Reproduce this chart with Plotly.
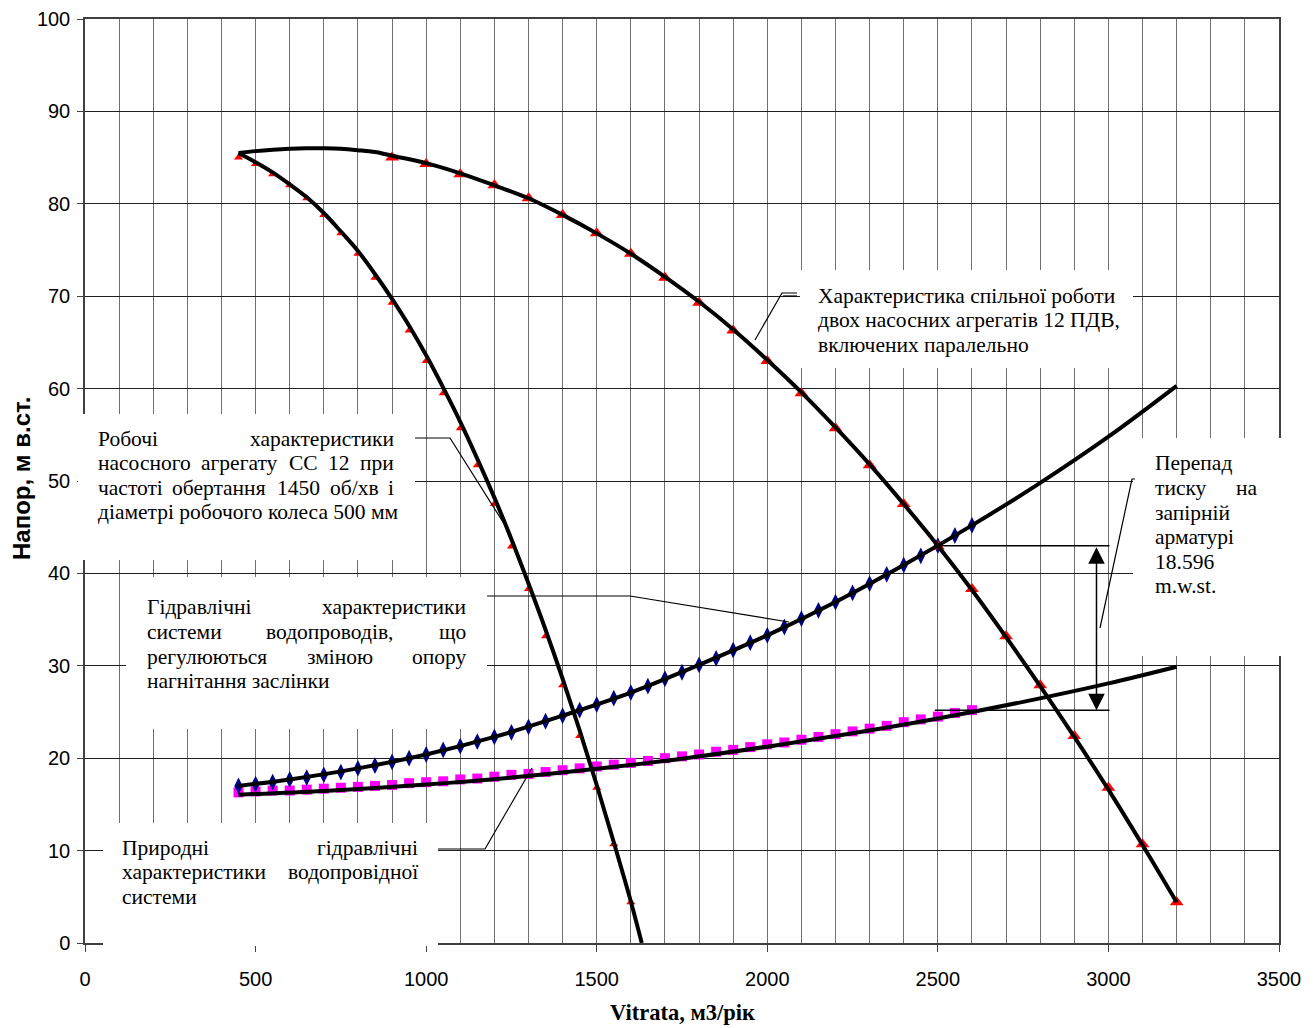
import plotly.graph_objects as go

# ---------------- data ----------------
single_x = [450, 500, 550, 600, 650, 700, 750, 800, 850, 900, 950, 1000, 1050, 1100,
            1150, 1200, 1250, 1300, 1350, 1400, 1450, 1500, 1550, 1600]
single_y = [85.0, 84.3, 83.2, 82.0, 80.6, 78.8, 76.8, 74.6, 72.0, 69.3, 66.3, 63.0, 59.5, 55.7,
            51.7, 47.5, 42.9, 38.3, 33.2, 27.9, 22.4, 16.8, 10.7, 4.4]

single_line_x = [450, 500, 550, 600, 650, 700, 750, 800, 850, 900, 950, 1000, 1050, 1100,
                 1150, 1200, 1250, 1300, 1350, 1400, 1450, 1500, 1550, 1600, 1632]
single_line_y = [85.5, 84.5, 83.4, 82.1, 80.7, 79.0, 77.0, 74.9, 72.4, 69.7, 66.8, 63.6, 60.1, 56.4,
                 52.4, 48.2, 43.7, 38.9, 33.9, 28.6, 23.0, 17.1, 10.9, 4.5, 0.0]

parallel_x = [900, 1000, 1100, 1200, 1300, 1400, 1500, 1600, 1700, 1800, 1900, 2000,
              2100, 2200, 2300, 2400, 2500, 2600, 2700, 2800, 2900, 3000, 3100, 3200]
parallel_y = [85.0, 84.3, 83.2, 82.0, 80.6, 78.8, 76.8, 74.6, 72.0, 69.3, 66.3, 63.0,
              59.5, 55.7, 51.7, 47.5, 42.9, 38.3, 33.2, 27.9, 22.4, 16.8, 10.7, 4.4]

parallel_line_x = [450, 500, 550, 600, 650, 700, 750, 800, 850, 900, 1000, 1100, 1200, 1300,
                   1400, 1500, 1600, 1700, 1800, 1900, 2000, 2100, 2200, 2300, 2400, 2500,
                   2600, 2700, 2800, 2900, 3000, 3100, 3200]
parallel_line_y = [85.5, 85.7, 85.85, 85.95, 86.0, 86.0, 85.95, 85.8, 85.6, 85.2, 84.4, 83.3, 82.0, 80.6,
                   78.8, 76.8, 74.6, 72.1, 69.4, 66.4, 63.1, 59.6, 55.8, 51.8, 47.5, 43.0,
                   38.2, 33.1, 27.8, 22.3, 16.6, 10.6, 4.4]

sys_x = [450, 500, 550, 600, 650, 700, 750, 800, 850, 900, 950, 1000, 1050, 1100, 1150,
         1200, 1250, 1300, 1350, 1400, 1450, 1500, 1550, 1600, 1650, 1700, 1750, 1800,
         1850, 1900, 1950, 2000, 2050, 2100, 2150, 2200, 2250, 2300, 2350, 2400, 2450,
         2500, 2550, 2600]
regulated_y = [17.0, 17.2, 17.4, 17.7, 17.9, 18.2, 18.5, 18.9, 19.2, 19.6, 20.0, 20.4, 20.9, 21.3, 21.8,
               22.3, 22.8, 23.4, 24.0, 24.6, 25.2, 25.8, 26.5, 27.1, 27.8, 28.6, 29.3, 30.1,
               30.8, 31.7, 32.5, 33.3, 34.2, 35.1, 36.0, 36.9, 37.9, 38.9, 39.9, 40.9, 41.9,
               43.0, 44.1, 45.2]
natural_y = [16.3, 16.4, 16.5, 16.5, 16.6, 16.7, 16.8, 16.9, 17.0, 17.1, 17.3, 17.4, 17.5, 17.7, 17.8,
             18.0, 18.2, 18.3, 18.5, 18.7, 18.9, 19.1, 19.3, 19.5, 19.7, 20.0, 20.2, 20.4,
             20.7, 20.9, 21.2, 21.5, 21.7, 22.0, 22.3, 22.6, 22.9, 23.2, 23.5, 23.9, 24.2,
             24.5, 24.9, 25.2]

regulated_line_x = [450, 600, 800, 1000, 1200, 1400, 1600, 1800, 2000, 2200, 2400, 2600,
                    2800, 3000, 3200]
regulated_line_y = [17.0, 17.7, 18.9, 20.4, 22.3, 24.6, 27.1, 30.1, 33.3, 36.9, 40.9, 45.2,
                    49.8, 54.8, 60.3]

natural_line_x = [450, 700, 1000, 1250, 1500, 1750, 2000, 2250, 2500, 2750, 3000, 3200]
natural_line_y = [16.05, 16.45, 17.15, 17.9, 18.85, 19.95, 21.25, 22.7, 24.3, 26.1, 28.1, 29.9]

x_ticks = [0, 500, 1000, 1500, 2000, 2500, 3000, 3500]
y_ticks = [0, 10, 20, 30, 40, 50, 60, 70, 80, 90, 100]

# pressure drop marker
drop_top = 43.0
drop_bottom = 25.2
drop_x = 2965

# ---------------- geometry (page pixels; body margin removed below) ----------------
W, H = 1316, 1028
PL, PT, PR, PB = 85, 19, 1279, 943          # plot area in page pixels
PW, PH = PR - PL, PB - PT
L, T = PL, PT
R, B = W - L - PW, H - T - PH


def PX(p):
    return (p - PL) / PW


def PY(p):
    return (PB - p) / PH


fig = go.Figure()

# markers
fig.add_trace(go.Scatter(x=sys_x, y=natural_y, mode="markers",
                         marker=dict(symbol="square", size=10, color="#FF00FF"), showlegend=False))
fig.add_trace(go.Scatter(x=sys_x, y=regulated_y, mode="markers",
                         marker=dict(symbol="diamond-tall", size=12, color="#000080"), showlegend=False))
fig.add_trace(go.Scatter(x=single_x, y=single_y, mode="markers",
                         marker=dict(symbol="triangle-up", size=8, color="#FF0000"), showlegend=False))
fig.add_trace(go.Scatter(x=parallel_x, y=parallel_y, mode="markers",
                         marker=dict(symbol="triangle-up", size=12, color="#FF0000"), showlegend=False))

# trend lines
for lx, ly in [(natural_line_x, natural_line_y), (regulated_line_x, regulated_line_y),
               (single_line_x, single_line_y), (parallel_line_x, parallel_line_y)]:
    fig.add_trace(go.Scatter(x=lx, y=ly, mode="lines", line=dict(color="black", width=4, shape="spline"),
                             showlegend=False))

shapes = []
# white text boxes
boxes = [(800, 1133, 270, 368), (78, 415, 414, 560), (126, 487, 577, 729),
         (103, 438, 823, 946), (1133, 1284, 438, 656)]
for x0, x1, y0, y1 in boxes:
    shapes.append(dict(type="rect", xref="paper", yref="paper", x0=PX(x0), x1=PX(x1),
                       y0=PY(y1), y1=PY(y0), fillcolor="white", line=dict(width=0), layer="above"))

# pressure-drop helper lines
for yy in (drop_top, drop_bottom):
    shapes.append(dict(type="line", xref="x", yref="y", x0=2491, x1=3003, y0=yy, y1=yy,
                       line=dict(color="black", width=1.5), layer="above"))

# callout leader lines (page pixel paths)
callouts = [
    [(797, 293), (782, 293), (755, 340)],
    [(797, 296), (783, 296)],
    [(415, 438), (450, 438), (508, 530)],
    [(487, 596), (630, 596), (789, 622)],
    [(438, 849), (485, 849), (532, 768)],
    [(1135, 479), (1132, 479), (1100, 628)],
]
for pts in callouts:
    path = "M " + " L ".join(f"{PX(a):.5f},{PY(b):.5f}" for a, b in pts)
    shapes.append(dict(type="path", xref="paper", yref="paper", path=path,
                       line=dict(color="black", width=1.2), layer="above"))

annotations = []
SERIF = dict(family="Liberation Serif, Times New Roman, serif", size=21.5, color="black")


def word(text, px, py, anchor):
    annotations.append(dict(text=text, x=PX(px), y=PY(py), xref="paper", yref="paper",
                            xanchor=anchor, yanchor="middle", showarrow=False, font=SERIF,
                            borderpad=0))


# box A
word("Характеристика спільної роботи", 817, 296, "left")
word("двох насосних агрегатів 12 ПДВ,", 817, 320, "left")
word("включених паралельно", 817, 345, "left")
# box B
word("Робочі", 97, 439, "left"); word("характеристики", 395, 439, "right")
word("насосного", 97, 463, "left"); word("агрегату", 239, 463, "center"); word("СС", 303, 463, "center")
word("12", 339, 463, "center"); word("при", 395, 463, "right")
word("частоті", 97, 488, "left"); word("обертання", 219, 488, "center"); word("1450", 298, 488, "center")
word("об/хв", 354.5, 488, "center"); word("і", 395, 488, "right")
word("діаметрі робочого колеса 500 мм", 97, 512, "left")
# box C
word("Гідравлічні", 146, 607, "left"); word("характеристики", 467, 607, "right")
word("системи", 146, 632, "left"); word("водопроводів,", 329.5, 632, "center"); word("що", 467, 632, "right")
word("регулюються", 146, 657, "left"); word("зміною", 339.5, 657, "center"); word("опору", 467, 657, "right")
word("нагнітання заслінки", 146, 681, "left")
# box D
word("Природні", 121, 848, "left"); word("гідравлічні", 419, 848, "right")
word("характеристики", 121, 872, "left"); word("водопровідної", 419, 872, "right")
word("системи", 121, 897, "left")
# box E
word("Перепад", 1154, 463, "left")
word("тиску", 1154, 488, "left"); word("на", 1259, 488, "right")
word("запірній", 1154, 513, "left")
word("арматурі", 1154, 537, "left")
word("18.596", 1154, 562, "left")
word("m.w.st.", 1154, 586, "left")

# double-headed arrow
annotations.append(dict(x=drop_x, y=drop_bottom, ax=drop_x, ay=drop_top, xref="x", yref="y",
                        axref="x", ayref="y", text="", showarrow=True, arrowhead=2, arrowsize=2.2,
                        arrowwidth=1.5, arrowside="end+start", arrowcolor="black"))

# axis titles
annotations.append(dict(text="<b>Vitrata, м3/рік</b>", x=0.5, y=PY(1013), xref="paper", yref="paper",
                        xanchor="center", yanchor="middle", showarrow=False,
                        font=dict(family="Liberation Serif, Times New Roman, serif", size=22.5, color="black")))
annotations.append(dict(text="<b>Напор, м в.ст.</b>", x=PX(21), y=PY(479), xref="paper", yref="paper",
                        xanchor="center", yanchor="middle", showarrow=False, textangle=-90,
                        font=dict(family="Liberation Sans, Arial, sans-serif", size=24, color="black")))

TICKFONT = dict(family="Liberation Sans Narrow, Arial Narrow, Liberation Sans, Arial", size=20, color="black")

fig.update_layout(
    width=W, height=H, margin=dict(l=L, r=R, t=T, b=B, autoexpand=False),
    paper_bgcolor="white", plot_bgcolor="white",
    shapes=shapes, annotations=annotations, showlegend=False,
    xaxis=dict(range=[0, 3500], tickvals=x_ticks, ticktext=[str(v) for v in x_ticks],
               showgrid=True, gridcolor="#707070", gridwidth=1,
               minor=dict(dtick=100, showgrid=True, gridcolor="#707070", gridwidth=1, ticks=""),
               ticks="outside", ticklen=7, tickcolor="#404040", tickwidth=1,
               showline=True, linecolor="#404040", linewidth=1.5, mirror=True,
               tickfont=TICKFONT, ticklabelstandoff=10, zeroline=False, automargin=False),
    yaxis=dict(range=[0, 100], tickvals=y_ticks, ticktext=[str(v) for v in y_ticks],
               showgrid=True, gridcolor="#202020", gridwidth=1,
               ticks="outside", ticklen=6, tickcolor="#404040", tickwidth=1,
               showline=True, linecolor="#404040", linewidth=1.5, mirror=True,
               tickfont=TICKFONT, ticklabelstandoff=3, zeroline=False, automargin=False),
)

fig.write_html("out.html", config={"displayModeBar": False},
               post_script="document.body.style.margin='0px';document.body.style.overflow='hidden';")
